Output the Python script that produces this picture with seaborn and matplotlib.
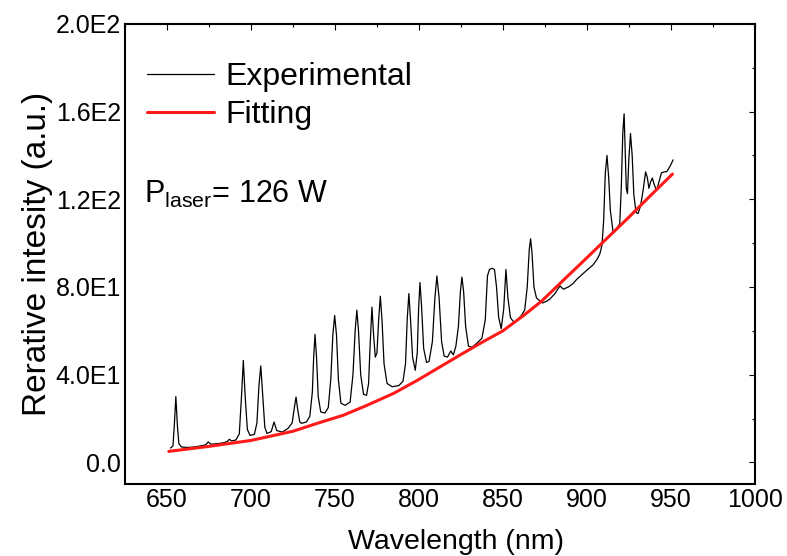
import matplotlib
matplotlib.use("Agg")
import matplotlib.pyplot as plt
import seaborn as sns
from matplotlib.ticker import FixedLocator, MultipleLocator

# experimental spectrum (nm, a.u.)
wavelength = [652, 653.5, 654.3, 655.2, 656.1, 657, 658.5, 662, 666, 670, 673, 674.5,
              676, 680, 684, 686, 687, 688.5, 691, 693, 694.3, 695.4, 696.5, 697.8,
              699.4, 702, 703.5, 704.7, 705.8, 707, 708.2, 709.5, 712, 713.7, 715.3,
              718.6, 722, 724.5, 725.8, 726.8, 727.8, 729, 730, 733, 735, 736.5,
              737.3, 738.1, 739, 740, 741.5, 744, 746, 747.5, 748.7, 749.8, 750.9,
              752, 753.5, 756, 759, 760.7, 762, 763, 764, 765.3, 767, 768.8, 770,
              771, 772, 773, 774, 775, 776, 777, 778, 779.2, 781, 784, 788, 790.5,
              792, 793, 794, 795, 796.2, 797.8, 799, 799.8, 800.6, 801.5, 802.8,
              804.5, 806, 808, 809.5, 810.7, 812, 813.5, 815, 817, 819, 820.5, 822,
              823.5, 824.7, 825.6, 826.6, 827.8, 829.5, 831.5, 834, 837.5, 839.5,
              840.8, 842, 843.5, 845, 846.2, 847.5, 849, 850.5, 851.8, 853, 854.5,
              856.5, 858, 861, 863, 864.5, 865.7, 866.5, 867.3, 868.5, 870, 873.6,
              876, 878, 881, 884, 886, 889, 891.7, 894, 897.6, 900.5, 903.6, 906,
              907.7, 909, 910, 911, 912, 913, 914, 915.7, 917.5, 919.6, 920.5, 921.4,
              922.2, 922.9, 923.5, 924.2, 925, 926, 927, 928, 929.3, 930.5, 932,
              933.5, 935, 936, 937, 938, 939, 940, 941.5, 943, 944.4, 946, 947.6,
              949.5, 951.4]
intensity = [6.5, 7.5, 17, 30, 17, 8.5, 7, 6.8, 7, 7.5, 8, 9.3,
             8.3, 8.5, 9, 9.6, 10.5, 9.8, 10.2, 13, 30, 46.5, 30, 15,
             12.3, 12.8, 18, 35, 44, 30, 16, 13.2, 14, 18.4, 14.5,
             13.8, 15.5, 18, 25, 29.8, 24, 18.5, 17.8, 18.4, 21, 32,
             48, 58.4, 48, 30, 23, 22.5, 25, 38, 58, 67, 58,
             38, 27, 26, 27.5, 40, 60, 69.4, 60, 40, 31, 30.6, 36,
             55, 70.8, 58, 48, 50, 65, 75.8, 65, 45, 36, 34.5, 35, 37,
             45, 65, 77, 65, 48, 42, 50, 70, 82, 72, 52,
             45.6, 46, 55, 75, 85, 75, 55, 48.5, 48, 50.8, 49, 53,
             62, 78, 84.5, 78, 62, 53, 52.5, 54, 56.6, 65,
             85, 88, 88.5, 88, 80, 66, 61, 70, 88, 75, 66,
             64, 64.5, 67, 69.5, 80, 97, 102, 96, 80, 75, 72.7,
             73.5, 74.5, 77, 80.5, 79, 80, 81.5, 83.5, 86, 88, 90, 92.5,
             95, 99, 110, 132, 140, 130, 115, 104.5, 106, 109, 125, 150,
             159, 140, 125, 122.6, 138, 150, 140, 122, 114, 113.5, 117,
             124, 132.5, 130, 125, 128, 129.7, 127, 124, 128, 132, 132.5, 132.6,
             135, 138]

# fitted curve
fit_wavelength = [651, 675, 700, 725, 739, 755, 769, 785, 799, 812, 825, 837, 850,
                  862, 873, 887, 900, 912, 925, 937, 951]
fit_intensity = [5, 7.3, 10, 14.2, 17.7, 21.5, 26, 31.5, 37.4, 43.3, 49.2, 54.5, 60,
                 66.8, 73.5, 83.8, 93.3, 102.2, 111.8, 121, 131.5]

x_ticks = [650, 700, 750, 800, 850, 900, 950, 1000]
y_ticks = [0, 40, 80, 120, 160, 200]
y_tick_labels = ["0.0", "4.0E1", "8.0E1", "1.2E2", "1.6E2", "2.0E2"]

sns.set_style("white")
plt.rcParams["font.family"] = ["Liberation Sans", "DejaVu Sans"]
plt.rcParams["mathtext.default"] = "regular"
plt.rcParams["text.color"] = "black"
plt.rcParams["axes.labelcolor"] = "black"

fig = plt.figure(figsize=(7.87, 5.56), dpi=100)
ax = fig.add_axes([0.159, 0.129, 0.800, 0.828])

sns.lineplot(x=wavelength, y=intensity, color="black", lw=0.9, ax=ax,
             label="Experimental", sort=False, estimator=None)
sns.lineplot(x=fit_wavelength, y=fit_intensity, color="#ff1a1a", lw=2.2, ax=ax,
             label="Fitting", sort=False, estimator=None)

ax.set_xlim(625, 1000)
ax.set_ylim(-10, 200)
ax.xaxis.set_major_locator(FixedLocator(x_ticks))
ax.xaxis.set_minor_locator(MultipleLocator(25))
ax.yaxis.set_major_locator(FixedLocator(y_ticks))
ax.set_yticklabels(y_tick_labels)
ax.yaxis.set_minor_locator(MultipleLocator(20))
ax.tick_params(which="both", direction="in", top=True, right=True,
               labelsize=18, width=0.8, colors="black")
ax.tick_params(which="major", length=4, pad=3)
ax.tick_params(which="minor", length=2.5)
for s in ax.spines.values():
    s.set_color("black")
    s.set_linewidth(1.5)

ax.set_xlabel("Wavelength (nm)", fontsize=20.5, labelpad=12)
ax.xaxis.label.set_x(0.525)
ax.set_ylabel("Rerative intesity (a.u.)", fontsize=24, labelpad=2)

ax.legend(loc="upper left", bbox_to_anchor=(0.015, 0.945), frameon=False,
          fontsize=23, handlelength=2.1, handletextpad=0.35, labelspacing=0.25,
          borderaxespad=0)
ax.text(0.03, 0.612, "P$_{laser}$= 126 W", transform=ax.transAxes, fontsize=22,
        va="baseline")

fig.savefig("out.png", dpi=100)
